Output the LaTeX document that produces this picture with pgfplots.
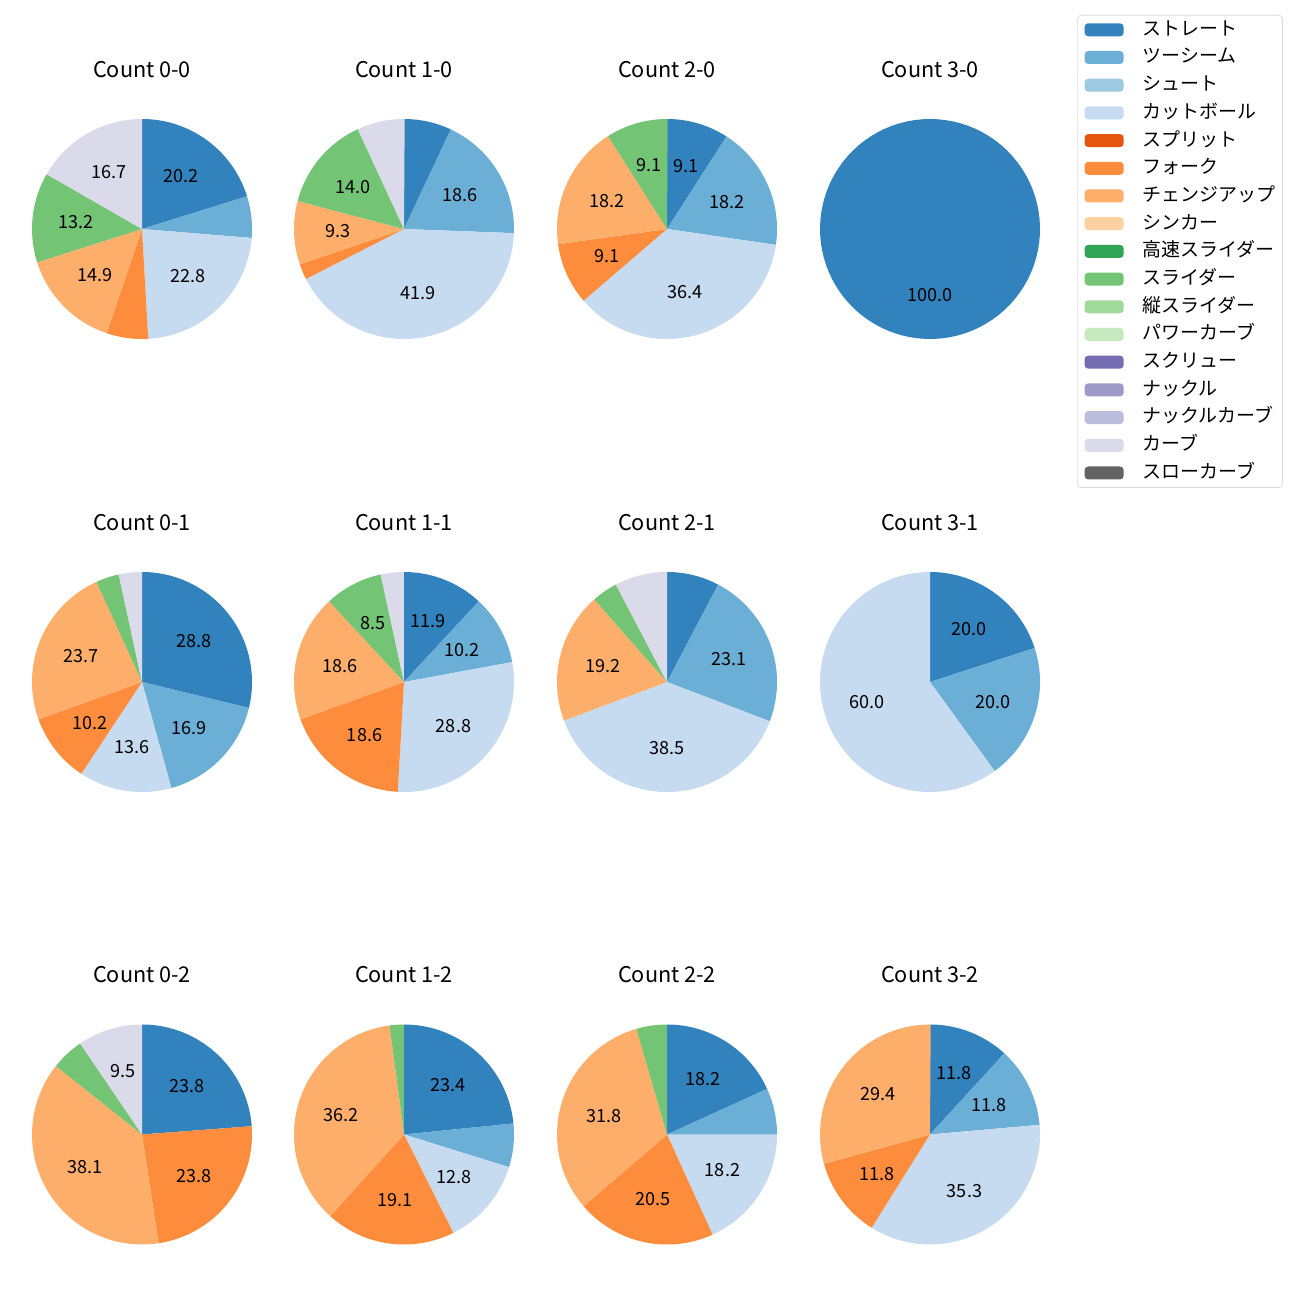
\documentclass[border=0pt]{standalone}
\usepackage{pgfplots}
\pgfplotsset{compat=1.18}
\usepackage{fontspec}
\setmainfont{Noto Sans CJK JP}

% tab20c colours, in legend order
\definecolor{c0}{HTML}{3182BD}
\definecolor{c1}{HTML}{6BAED6}
\definecolor{c2}{HTML}{9ECAE1}
\definecolor{c3}{HTML}{C6DBEF}
\definecolor{c4}{HTML}{E6550D}
\definecolor{c5}{HTML}{FD8D3C}
\definecolor{c6}{HTML}{FDAE6B}
\definecolor{c7}{HTML}{FDD0A2}
\definecolor{c8}{HTML}{31A354}
\definecolor{c9}{HTML}{74C476}
\definecolor{c10}{HTML}{A1D99B}
\definecolor{c11}{HTML}{C7E9C0}
\definecolor{c12}{HTML}{756BB1}
\definecolor{c13}{HTML}{9E9AC8}
\definecolor{c14}{HTML}{BCBDDC}
\definecolor{c15}{HTML}{DADAEB}
\definecolor{c16}{HTML}{636363}

\pgfplotsset{
  pieax/.style={
    width=121.85pt, height=121.85pt, scale only axis,
    xmin=-1, xmax=1, ymin=-1, ymax=1,
    hide axis, clip=false,
    title style={font=\fontsize{12}{14}\selectfont, at={(0.5,1)}, anchor=center, yshift=21.6pt},
  },
  swatch/.style={draw=none, legend image code/.code={%
    \path[##1, draw=none] (0pt,-3.6pt) rectangle (21.6pt,3.6pt);
    \path[draw=none, fill=none] (0pt,0pt) -- (32.1pt,0pt);}},
}

% one wedge, clockwise from the top, share #1 (percent), colour #2
\newcommand\slice[2]{%
  \pgfmathsetmacro\sa{90-3.6*\cum}%
  \pgfmathsetmacro\sb{90-3.6*(\cum+#1)}%
  \pgfmathsetmacro\lx{0.6*cos((\sa+\sb)/2)}%
  \pgfmathsetmacro\ly{0.6*sin((\sa+\sb)/2)}%
  \edef\tmp{\noexpand\addplot[fill=#2, draw=none, domain=\sb:\sa, samples=90, variable=\noexpand\t]
    ({cos(\noexpand\t)},{sin(\noexpand\t)}) -- (axis cs:0,0) -- cycle;}%
  \tmp
  \ifdim #1pt>8pt
    \edef\tmp{\noexpand\node[font=\noexpand\fontsize{10}{12}\noexpand\selectfont] at (axis cs:\lx,\ly) {#1};}%
    \tmp
  \fi
  \pgfmathsetmacro\newcum{\cum+#1}%
  \xdef\cum{\newcum}%
}

% #1 x, #2 y (pt from top left), #3 title, #4 shares of the 17 pitch types
\newcommand\piechart[4]{%
  \begin{axis}[pieax, at={(#1pt,-#2pt)}, anchor=center, title={#3}]
    \xdef\cum{0}
    \foreach \v [count=\i from 0] in {#4} {%
      \ifdim\v pt>0pt \slice{\v}{c\i}\fi
    }
  \end{axis}%
}

\begin{document}
\begin{tikzpicture}
\useasboundingbox (0pt,0pt) rectangle (720pt,-720pt);

\piechart{78.65}{126.83}{Count 0-0}{20.2,6.1,0,22.8,0,6.1,14.9,0,0,13.2,0,0,0,0,0,16.7,0}
\piechart{223.75}{126.83}{Count 1-0}{7.0,18.6,0,41.9,0,2.3,9.3,0,0,14.0,0,0,0,0,0,7.0,0}
\piechart{369.42}{126.83}{Count 2-0}{9.1,18.2,0,36.4,0,9.1,18.2,0,0,9.1,0,0,0,0,0,0,0}
\piechart{515.08}{126.83}{Count 3-0}{100.0,0,0,0,0,0,0,0,0,0,0,0,0,0,0,0,0}

\piechart{78.65}{377.72}{Count 0-1}{28.8,16.9,0,13.6,0,10.2,23.7,0,0,3.4,0,0,0,0,0,3.4,0}
\piechart{223.75}{377.72}{Count 1-1}{11.9,10.2,0,28.8,0,18.6,18.6,0,0,8.5,0,0,0,0,0,3.4,0}
\piechart{369.42}{377.72}{Count 2-1}{7.7,23.1,0,38.5,0,0,19.2,0,0,3.8,0,0,0,0,0,7.7,0}
\piechart{515.08}{377.72}{Count 3-1}{20.0,20.0,0,60.0,0,0,0,0,0,0,0,0,0,0,0,0,0}

\piechart{78.65}{628.33}{Count 0-2}{23.8,0,0,0,0,23.8,38.1,0,0,4.8,0,0,0,0,0,9.5,0}
\piechart{223.75}{628.33}{Count 1-2}{23.4,6.4,0,12.8,0,19.1,36.2,0,0,2.1,0,0,0,0,0,0,0}
\piechart{369.42}{628.33}{Count 2-2}{18.2,6.8,0,18.2,0,20.5,31.8,0,0,4.5,0,0,0,0,0,0,0}
\piechart{515.08}{628.33}{Count 3-2}{11.8,11.8,0,35.3,0,11.8,29.4,0,0,0,0,0,0,0,0,0,0}

% legend
\begin{axis}[at={(596.5pt,-8.3pt)}, anchor=north west, scale only axis,
  width=10pt, height=10pt, hide axis, xmin=0, xmax=1, ymin=0, ymax=1,
  legend cell align=left,
  legend style={at={(0,1)}, anchor=north west, draw=black!15, rounded corners=2pt,
    font=\fontsize{10.5}{12}\selectfont, row sep=5.34pt,
    inner xsep=4pt, inner ysep=3pt,
    nodes={inner sep=0pt, text height=8pt, text depth=2pt}}]
\addlegendimage{swatch, fill=c0}\addlegendentry{ストレート}
\addlegendimage{swatch, fill=c1}\addlegendentry{ツーシーム}
\addlegendimage{swatch, fill=c2}\addlegendentry{シュート}
\addlegendimage{swatch, fill=c3}\addlegendentry{カットボール}
\addlegendimage{swatch, fill=c4}\addlegendentry{スプリット}
\addlegendimage{swatch, fill=c5}\addlegendentry{フォーク}
\addlegendimage{swatch, fill=c6}\addlegendentry{チェンジアップ}
\addlegendimage{swatch, fill=c7}\addlegendentry{シンカー}
\addlegendimage{swatch, fill=c8}\addlegendentry{高速スライダー}
\addlegendimage{swatch, fill=c9}\addlegendentry{スライダー}
\addlegendimage{swatch, fill=c10}\addlegendentry{縦スライダー}
\addlegendimage{swatch, fill=c11}\addlegendentry{パワーカーブ}
\addlegendimage{swatch, fill=c12}\addlegendentry{スクリュー}
\addlegendimage{swatch, fill=c13}\addlegendentry{ナックル}
\addlegendimage{swatch, fill=c14}\addlegendentry{ナックルカーブ}
\addlegendimage{swatch, fill=c15}\addlegendentry{カーブ}
\addlegendimage{swatch, fill=c16}\addlegendentry{スローカーブ}
\end{axis}
\end{tikzpicture}
\end{document}
